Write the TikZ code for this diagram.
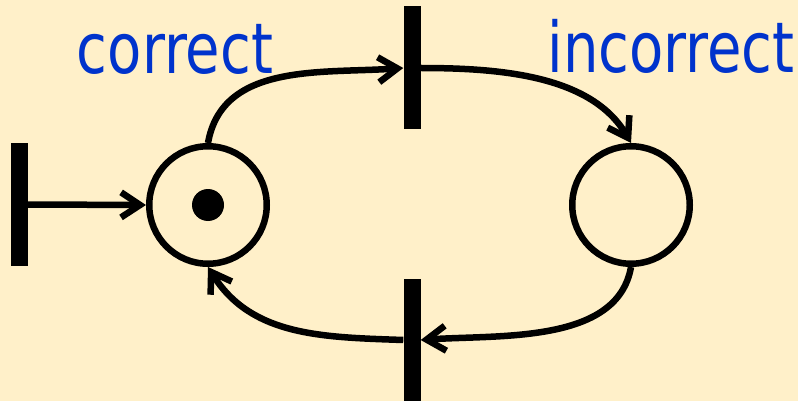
\documentclass[tikz,border=0pt]{standalone}
\usepackage{fontspec}
\usetikzlibrary{positioning, arrows.meta}
\newfontfamily\labelfont{DejaVu Sans}
\definecolor{creambg}{RGB}{255, 240, 201}
\definecolor{labelblue}{RGB}{0, 51, 204}

\begin{document}
\begin{tikzpicture}[
        x=1pt, y=-1pt,
        place/.style={circle, draw=black, line width=6.5pt, inner sep=0pt, minimum size=117.5pt},
        token/.style={circle, fill=black, inner sep=0pt, minimum size=32pt},
        trans/.style={rectangle, fill=black, inner sep=0pt, minimum width=17pt, minimum height=123pt},
        label/.style={font=\labelfont\fontsize{70}{84}\selectfont, text=labelblue, anchor=base, inner sep=0pt, xscale=0.8},
        arc/.style={-{Straight Barb[length=19pt, width=25pt]}, line width=6.5pt, black}
    ]
        \fill[creambg] (0,0) rectangle (798,401);
        \useasboundingbox (0,0) rectangle (798,401);

        % places and transitions
        \node[place] (pc) at (208,205) {};
        \node[token] (tk) at (208,205) {};
        \node[place] (pi) at (631,205) {};
        \node[trans] (tl) at (19,204.5) {};
        \node[trans] (tt) at (412,68) {};
        \node[trans] (tb) at (412,340) {};

        \node[label] (lc) at (175,74) {correct};
        \node[label] (li) at (671,73) {incorrect};

        % arcs
        \draw[arc] (tl.east) -- (pc.west);
        \draw[arc] (pc.north) to[out=80, in=184] (tt.west);
        \draw[arc] (tt.east) to[out=0, in=120, looseness=0.9] (pi.north);
        \draw[arc] (pi.south) to[out=-100, in=4, looseness=0.9] (tb.east);
        \draw[arc] (tb.west) to[out=178, in=-58] (pc.south);
    \end{tikzpicture}
\end{document}
